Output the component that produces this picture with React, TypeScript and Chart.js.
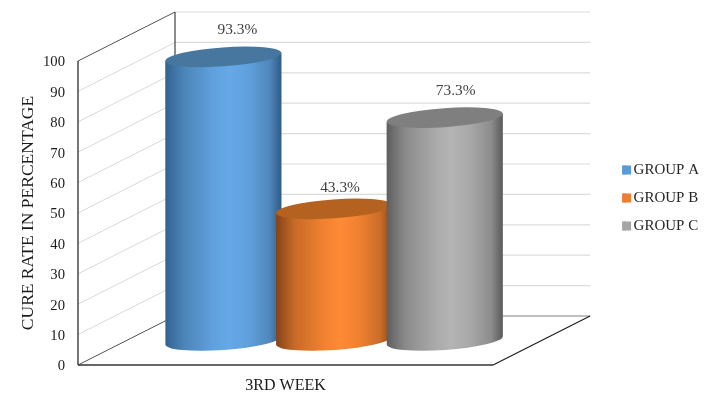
import React, { useEffect, useRef } from "react";
import { Chart, registerables } from "chart.js";

Chart.register(...registerables);

const categories = ["3RD WEEK"];
const groupNames = ["GROUP A", "GROUP B", "GROUP C"];
const groupA = [93.3];
const groupB = [43.3];
const groupC = [73.3];
const legendColors = ["#5b9bd5", "#ed7d31", "#a5a5a5"];
const yTicks = [0, 10, 20, 30, 40, 50, 60, 70, 80, 90, 100];

const cylinderStyles = [
  { labelDx: 14, labelDy: -27, top: "#47769f", stops: ["#33638f", "#4c84b8", "#5f9fdc", "#66a8e8", "#5f9fdc", "#4f87bb", "#2f5a85"] },
  { labelDx: 6, labelDy: -21, top: "#b5611f", stops: ["#84431a", "#c76a27", "#ef8030", "#ff8a36", "#ef8030", "#c96c28", "#8a4716"] },
  { labelDx: 11, labelDy: -27, top: "#7f7f7f", stops: ["#5e5e5e", "#8a8a8a", "#a8a8a8", "#b4b4b4", "#a8a8a8", "#8c8c8c", "#5a5a5a"] },
];
const stopPositions = [0, 0.16, 0.4, 0.55, 0.72, 0.9, 1];

const FONT = "'Liberation Serif', 'Times New Roman', serif";
const DEPTH_X = 97;
const DEPTH_Y = 49;

const wallsAndCylinders = {
  id: "wallsAndCylinders",
  beforeDatasetsDraw(chart: any) {
    const { ctx, scales } = chart;
    const y = scales.y;
    const area = chart.chartArea;
    const L = area.left;
    const R = area.right;
    const y0 = y.getPixelForValue(0);
    const yMax = y.getPixelForValue(100);
    const line = (pts: number[][], color: string, w: number) => {
      ctx.beginPath();
      ctx.strokeStyle = color;
      ctx.lineWidth = w;
      pts.forEach((p, i) => (i ? ctx.lineTo(p[0], p[1]) : ctx.moveTo(p[0], p[1])));
      ctx.stroke();
    };
    ctx.save();
    yTicks.forEach((t) => {
      if (t === 0) return;
      const p = y.getPixelForValue(t);
      line([[L + DEPTH_X, p - DEPTH_Y], [R + DEPTH_X, p - DEPTH_Y]], "#dcdcdc", 1.2);
      if (t < 100) line([[L, p], [L + DEPTH_X, p - DEPTH_Y]], "#d9d9d9", 1);
    });
    line([[L + DEPTH_X, y0 - DEPTH_Y], [R + DEPTH_X, y0 - DEPTH_Y]], "#808080", 1.2);
    line([[L, yMax], [L + DEPTH_X, yMax - DEPTH_Y]], "#404040", 0.9);
    line([[L + DEPTH_X, yMax - DEPTH_Y], [L + DEPTH_X, y0 - DEPTH_Y]], "#1a1a1a", 1);
    line([[L, y0], [L + DEPTH_X, y0 - DEPTH_Y]], "#404040", 0.9);
    line([[L, yMax], [L, y0]], "#1a1a1a", 1.2);
    line([[L, y0], [R, y0]], "#333333", 1.3);
    line([[R, y0], [R + DEPTH_X, y0 - DEPTH_Y]], "#1a1a1a", 1.1);

    const tilt = -0.07;
    const minor = 9.5;
    chart.data.datasets.forEach((ds: any, di: number) => {
      const el = chart.getDatasetMeta(di).data[0];
      const style = cylinderStyles[di];
      const cx = el.x + DEPTH_X / 2;
      const half = el.width / 2;
      const topY = el.y - DEPTH_Y / 2;
      const baseY = el.base - DEPTH_Y / 2;
      const dy = Math.sin(tilt) * half;
      const grad = ctx.createLinearGradient(cx - half, 0, cx + half, 0);
      style.stops.forEach((c: string, i: number) => grad.addColorStop(stopPositions[i], c));
      ctx.beginPath();
      ctx.moveTo(cx - half, topY - dy);
      ctx.lineTo(cx + half, topY + dy);
      ctx.lineTo(cx + half, baseY + dy);
      ctx.ellipse(cx, baseY, half, minor, tilt, 0, Math.PI);
      ctx.closePath();
      ctx.fillStyle = grad;
      ctx.fill();
      ctx.beginPath();
      ctx.ellipse(cx, topY, half, minor, tilt, 0, Math.PI * 2);
      ctx.fillStyle = style.top;
      ctx.fill();
      ctx.fillStyle = "#404040";
      ctx.font = "15.4px " + FONT;
      ctx.textAlign = "center";
      ctx.textBaseline = "middle";
      ctx.fillText(ds.data[0] + "%", cx + style.labelDx, topY + style.labelDy);
    });
    ctx.restore();
    return false;
  },
  // The native legend ties its swatch gap to the font size; widen each swatch to the reference's 9px.
  afterDraw(chart: any) {
    const { ctx, legend } = chart;
    if (!legend || !legend.legendHitBoxes) return;
    ctx.save();
    legend.legendHitBoxes.forEach((hb: any, i: number) => {
      ctx.fillStyle = legendColors[i];
      ctx.fillRect(hb.left - 1, hb.top + hb.height / 2 - 4.5, 9, 9);
    });
    ctx.restore();
  },
};

export default function App() {
  const ref = useRef<HTMLCanvasElement | null>(null);
  useEffect(() => {
    const spacer = {
      display: true,
      ticks: { display: false },
      grid: { display: false },
      border: { display: false },
    };
    const chart = new Chart(ref.current as HTMLCanvasElement, {
      type: "bar",
      plugins: [wallsAndCylinders],
      data: {
        labels: categories,
        datasets: [groupA, groupB, groupC].map((values, i) => ({
          label: groupNames[i],
          data: values,
          backgroundColor: legendColors[i],
          categoryPercentage: 0.8,
          barPercentage: 1.05,
        })),
      },
      options: {
        animation: false,
        responsive: false,
        devicePixelRatio: 1,
        layout: { padding: { left: 0, right: 0, top: 0, bottom: 4 } },
        plugins: {
          tooltip: { enabled: false },
          legend: {
            position: "right",
            labels: {
              font: { family: FONT, size: 15 },
              color: "#262626",
              boxWidth: 3,
              boxHeight: 9,
              padding: 13,
            },
          },
        },
        scales: {
          x: {
            ticks: { font: { family: FONT, size: 16 }, color: "#1a1a1a", padding: 11 },
            grid: { display: false, drawTicks: false },
            border: { display: false },
            afterFit: (s: any) => { s.height = 31; },
          },
          x2: {
            ...spacer,
            type: "category",
            position: "top",
            afterFit: (s: any) => { s.height = 61; },
          },
          y: {
            min: 0,
            max: 100,
            afterFit: (s: any) => { s.width = 78; },
            ticks: {
              font: { family: FONT, size: 14.67 },
              color: "#1a1a1a",
              stepSize: 10,
              padding: 13,
              labelOffset: 1.5,
            },
            grid: { display: false, drawTicks: false },
            border: { display: false },
            title: {
              display: true,
              text: "CURE RATE IN PERCENTAGE",
              font: { family: FONT, size: 17.5 },
              color: "#1a1a1a",
              padding: { top: 18, bottom: 0 },
            },
          },
          y2: {
            ...spacer,
            type: "linear",
            position: "right",
            afterFit: (s: any) => { s.width = 117; },
          },
        },
      } as any,
    } as any);
    return () => chart.destroy();
  }, []);
  return (
    <canvas
      ref={ref}
      width={709}
      height={400}
      style={{ position: "fixed", left: 0, top: 0, width: 709, height: 400, display: "block" }}
    />
  );
}
